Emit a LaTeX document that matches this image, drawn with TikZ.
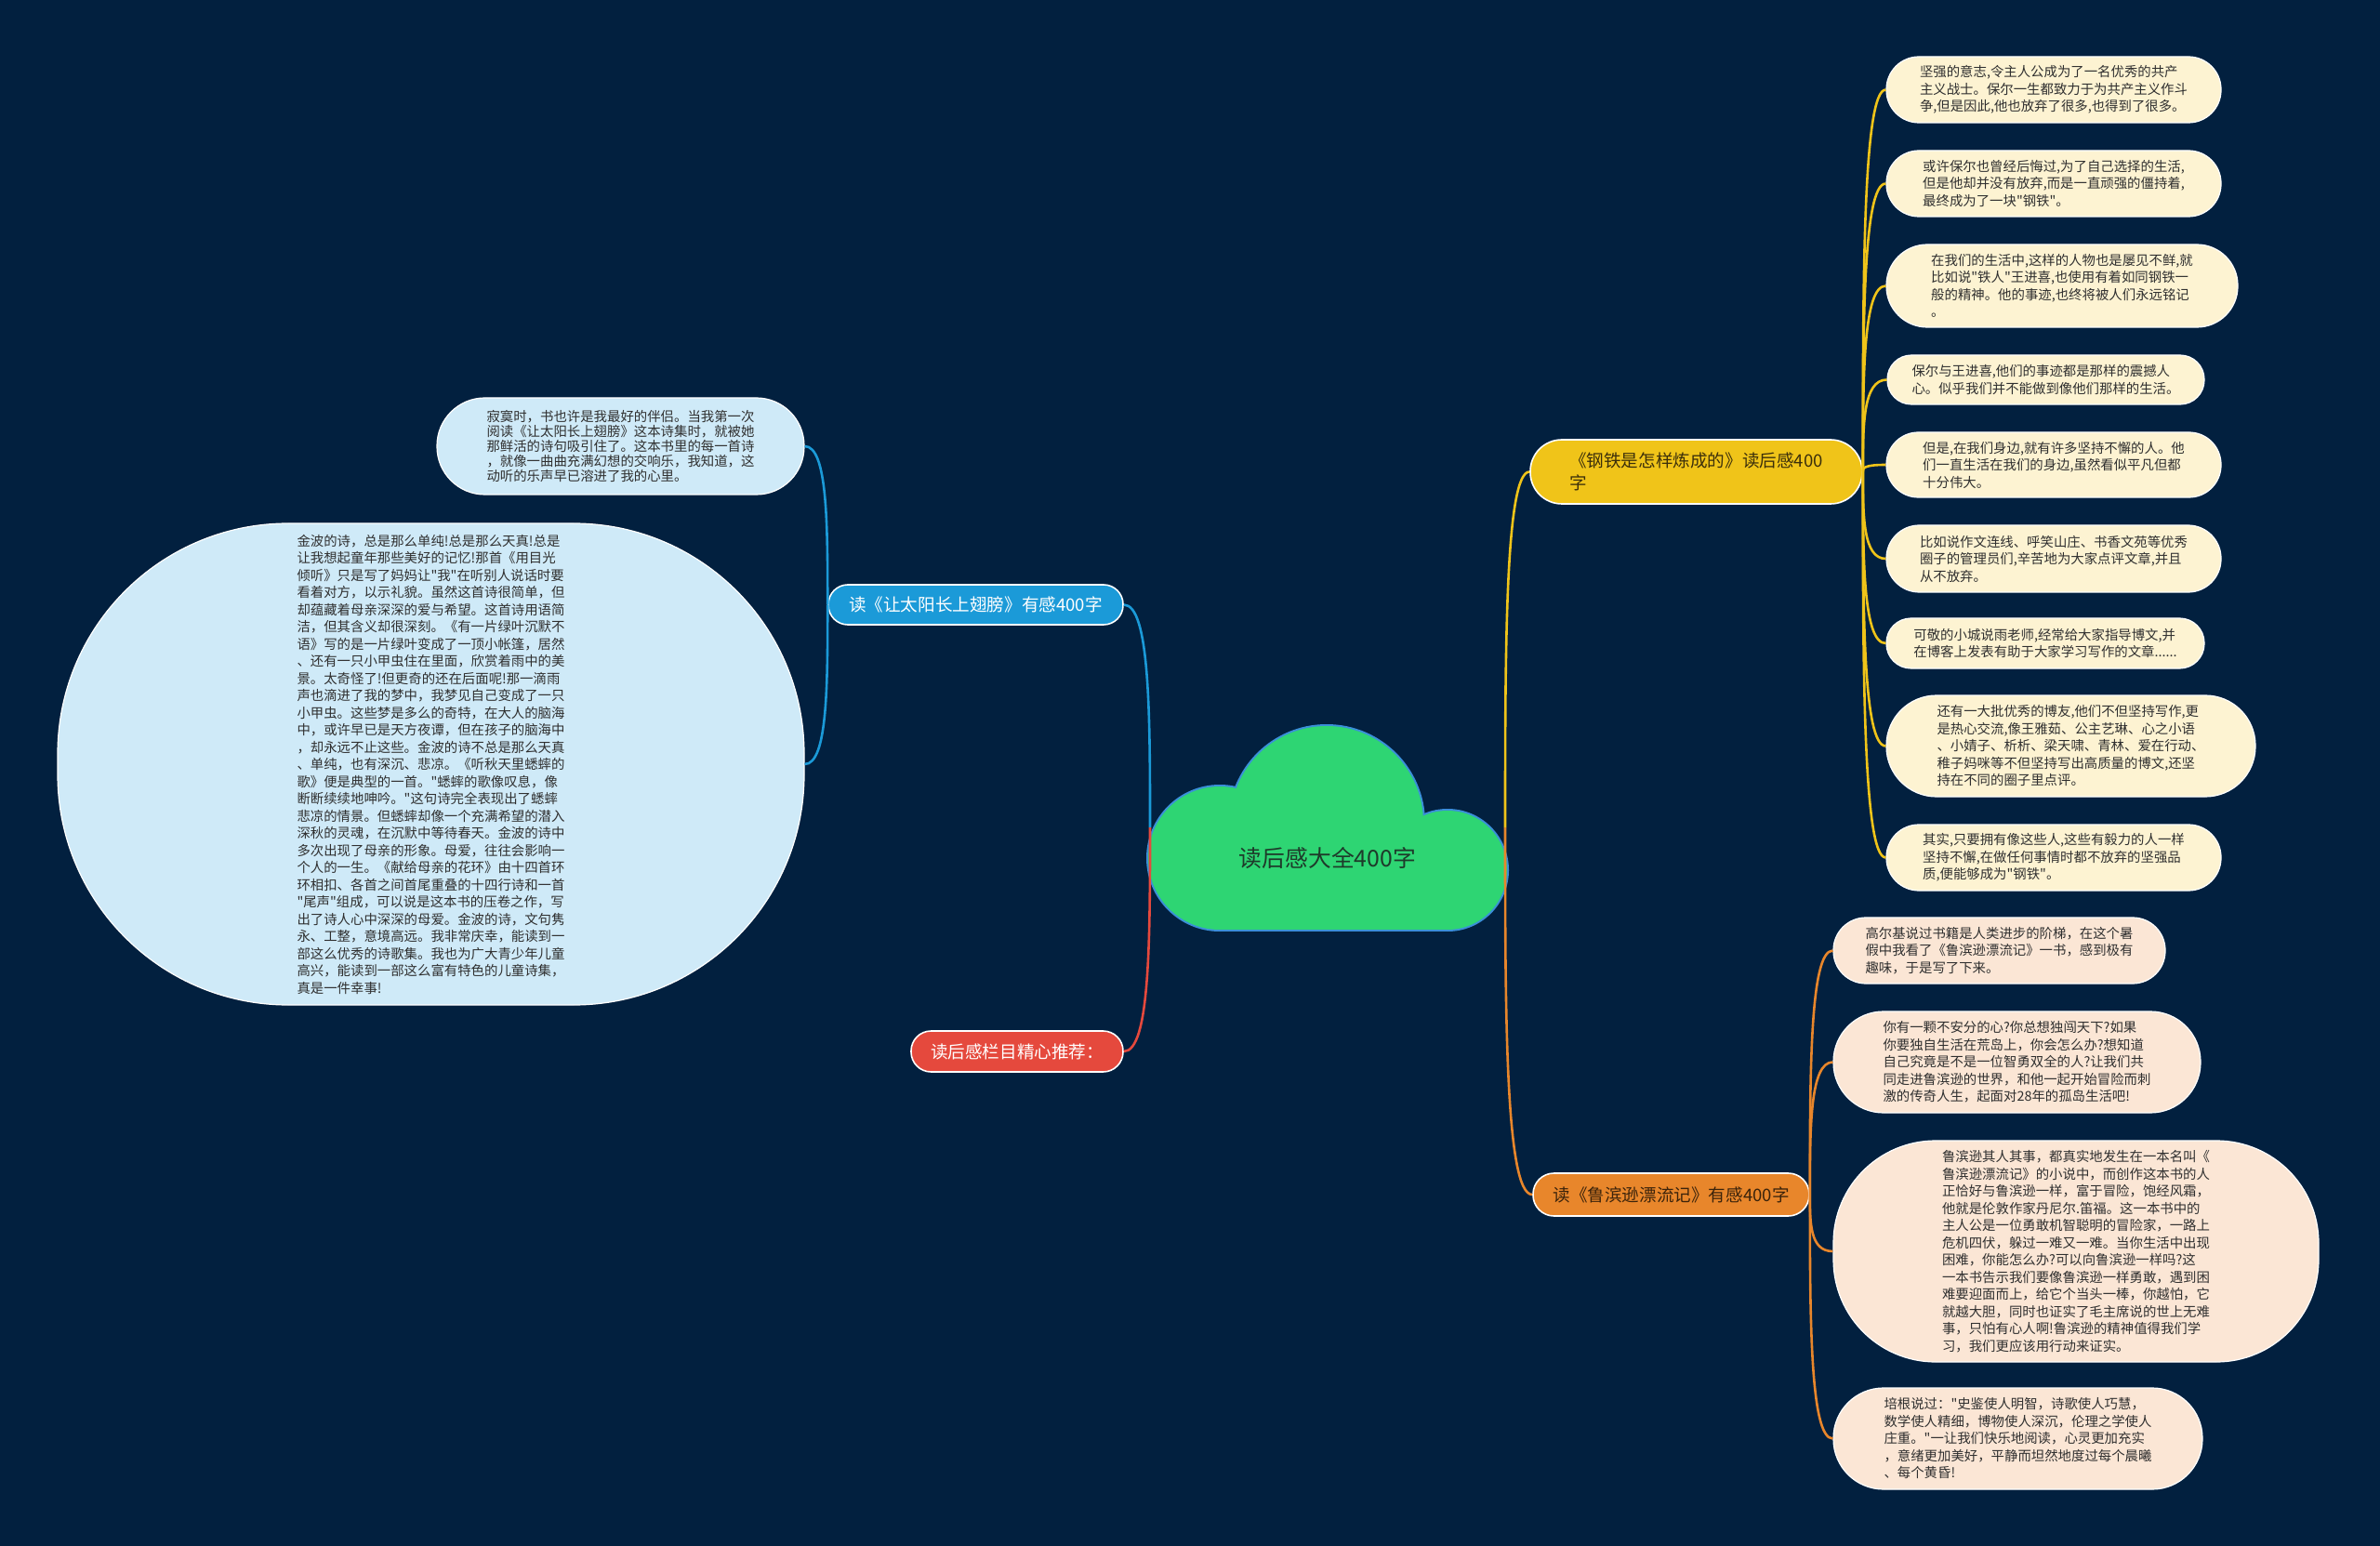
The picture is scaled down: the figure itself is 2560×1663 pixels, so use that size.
\documentclass[tikz,border=0pt]{standalone}
\usepackage{fontspec}
\setmainfont{Noto Sans CJK SC}[Ligatures=TeXOff]
\usetikzlibrary{calc}
\definecolor{bgc}{HTML}{02203F}
\definecolor{cloudfill}{HTML}{2ED573}
\definecolor{cloudline}{HTML}{3A8FD8}
\definecolor{cblue}{HTML}{1B9AD8}
\definecolor{cred}{HTML}{E5493D}
\definecolor{cyellow}{HTML}{F0C419}
\definecolor{corange}{HTML}{E8862B}
\definecolor{lyellow}{HTML}{FDF3D2}
\definecolor{lorange}{HTML}{FBE6D5}
\definecolor{lblue}{HTML}{CFEAF8}
\definecolor{ltext}{HTML}{2F2F2F}
\definecolor{roottext}{HTML}{1E3A2A}
\definecolor{ytext}{HTML}{3B2F0B}
\definecolor{otext}{HTML}{3B230B}

\newcommand\mmlink[3]{%
  \path ($(#2)!0.5!(#3)$) coordinate (mmtmp);
  \draw[#1] (#2) .. controls (#2 |- mmtmp) and (#2 |- #3) .. (#3);}
\newcommand\leaf[8]{\node[#1, minimum width=#5*0.5pt, minimum height=#6*0.5pt, rounded corners=#7*0.5pt] (#2) at (#3,#4) {#8};}

\begin{document}
\begin{tikzpicture}[x=0.5pt,y=-0.5pt,line join=round,
  leafbase/.style={rectangle, inner sep=0pt, align=left, draw=white, line width=0.6pt, text=ltext, font=\fontsize{7.2pt}{9.25pt}\selectfont},
  yleaf/.style={leafbase, fill=lyellow},
  oleaf/.style={leafbase, fill=lorange},
  bleaf/.style={leafbase, fill=lblue},
  branchbase/.style={rectangle, inner sep=0pt, draw=white, line width=0.8pt, font=\fontsize{9.3pt}{12pt}\selectfont, align=left},
  linkY/.style={cyellow, line width=1.3pt},
  linkO/.style={corange, line width=1.3pt},
  linkB/.style={cblue, line width=1.3pt},
  linkR/.style={cred, line width=1.3pt},
  cloudpart/.style={fill=cloudfill}
]
\fill[bgc] (0,0) rectangle (2560,1663);
\useasboundingbox (0,0) rectangle (2560,1663);

% cloud
\begin{scope}
\draw[cloudline, line width=2pt] (1427,885) circle[radius=104];
\draw[cloudline, line width=2pt] (1312,923) circle[radius=77];
\draw[cloudline, line width=2pt] (1557,936) circle[radius=64];
\draw[cloudline, line width=2pt] (1312,923) rectangle (1557,1000);
\fill[cloudfill] (1427,885) circle[radius=104];
\fill[cloudfill] (1312,923) circle[radius=77];
\fill[cloudfill] (1557,936) circle[radius=64];
\fill[cloudfill] (1312,923) rectangle (1557,1000);
\end{scope}
\node[text=roottext, font=\fontsize{12.4pt}{15pt}\selectfont] (root) at (1428,923) {读后感大全400字};
\coordinate (cL) at (1237,890);
\coordinate (cR) at (1619,890);

% branches
\node[branchbase, fill=cyellow, text=ytext, minimum width=357*0.5pt, minimum height=69*0.5pt, rounded corners=34*0.5pt] (BY) at (1824.5,507.5) {《钢铁是怎样炼成的》读后感400\\字};
\node[branchbase, fill=corange, text=otext, minimum width=297*0.5pt, minimum height=46*0.5pt, rounded corners=22.5*0.5pt] (BO) at (1797.5,1285) {读《鲁滨逊漂流记》有感400字};
\node[branchbase, fill=cblue, text=white, minimum width=317*0.5pt, minimum height=43*0.5pt, rounded corners=21*0.5pt] (BB) at (1049.5,650.5) {读《让太阳长上翅膀》有感400字};
\node[branchbase, fill=cred, text=white, minimum width=228*0.5pt, minimum height=44*0.5pt, rounded corners=21.5*0.5pt] (BR) at (1094,1131) {读后感栏目精心推荐：};

% yellow leaves
\leaf{yleaf}{Y1}{2209}{96.5}{360}{71}{35}{坚强的意志,令主人公成为了一名优秀的共产\\主义战士。保尔一生都致力于为共产主义作斗\\争,但是因此,他也放弃了很多,也得到了很多。}
\leaf{yleaf}{Y2}{2209}{197.5}{360}{71}{35}{或许保尔也曾经后悔过,为了自己选择的生活,\\但是他却并没有放弃,而是一直顽强的僵持着,\\最终成为了一块"钢铁"。}
\leaf{yleaf}{Y3}{2218}{307.5}{378}{89}{44}{在我们的生活中,这样的人物也是屡见不鲜,就\\比如说"铁人"王进喜,也使用有着如同钢铁一\\般的精神。他的事迹,也终将被人们永远铭记\\。}
\leaf{yleaf}{Y4}{2200.5}{408.5}{341}{53}{26}{保尔与王进喜,他们的事迹都是那样的震撼人\\心。似乎我们并不能做到像他们那样的生活。}
\leaf{yleaf}{Y5}{2209}{500}{360}{70}{34.5}{但是,在我们身边,就有许多坚持不懈的人。他\\们一直生活在我们的身边,虽然看似平凡但都\\十分伟大。}
\leaf{yleaf}{Y6}{2209}{601}{360}{72}{35.5}{比如说作文连线、呼笑山庄、书香文苑等优秀\\圈子的管理员们,辛苦地为大家点评文章,并且\\从不放弃。}
\leaf{yleaf}{Y7}{2200}{692}{342}{54}{26.5}{可敬的小城说雨老师,经常给大家指导博文,并\\在博客上发表有助于大家学习写作的文章......}
\leaf{yleaf}{Y8}{2227.5}{802.5}{397}{109}{54}{还有一大批优秀的博友,他们不但坚持写作,更\\是热心交流,像王雅茹、公主艺琳、心之小语\\、小婧子、析析、梁天啸、青林、爱在行动、\\稚子妈咪等不但坚持写出高质量的博文,还坚\\持在不同的圈子里点评。}
\leaf{yleaf}{Y9}{2209}{922.5}{360}{71}{35}{其实,只要拥有像这些人,这些有毅力的人一样\\坚持不懈,在做任何事情时都不放弃的坚强品\\质,便能够成为"钢铁"。}

% orange leaves
\leaf{oleaf}{O1}{2150.5}{1022.5}{357}{71}{35}{高尔基说过书籍是人类进步的阶梯，在这个暑\\假中我看了《鲁滨逊漂流记》一书，感到极有\\趣味，于是写了下来。}
\leaf{oleaf}{O2}{2169.5}{1142.5}{395}{109}{54}{你有一颗不安分的心?你总想独闯天下?如果\\你要独自生活在荒岛上，你会怎么办?想知道\\自己究竟是不是一位智勇双全的人?让我们共\\同走进鲁滨逊的世界，和他一起开始冒险而刺\\激的传奇人生，起面对28年的孤岛生活吧!}
\leaf{oleaf}{O3}{2233}{1346}{522}{238}{110}{鲁滨逊其人其事，都真实地发生在一本名叫《\\鲁滨逊漂流记》的小说中，而创作这本书的人\\正恰好与鲁滨逊一样，富于冒险，饱经风霜，\\他就是伦敦作家丹尼尔.笛福。这一本书中的\\主人公是一位勇敢机智聪明的冒险家，一路上\\危机四伏，躲过一难又一难。当你生活中出现\\困难，你能怎么办?可以向鲁滨逊一样吗?这\\一本书告示我们要像鲁滨逊一样勇敢，遇到困\\难要迎面而上，给它个当头一棒，你越怕，它\\就越大胆，同时也证实了毛主席说的世上无难\\事，只怕有心人啊!鲁滨逊的精神值得我们学\\习，我们更应该用行动来证实。}
\leaf{oleaf}{O4}{2170.5}{1547.5}{397}{109}{54}{培根说过："史鉴使人明智，诗歌使人巧慧，\\数学使人精细，博物使人深沉，伦理之学使人\\庄重。"一让我们快乐地阅读，心灵更加充实\\，意绪更加美好，平静而坦然地度过每个晨曦\\、每个黄昏!}

% blue leaves
\leaf{bleaf, font=\fontsize{7.2pt}{8pt}\selectfont}{B1}{667.5}{480}{395}{104}{51.5}{寂寞时，书也许是我最好的伴侣。当我第一次\\阅读《让太阳长上翅膀》这本诗集时，就被她\\那鲜活的诗句吸引住了。这本书里的每一首诗\\，就像一曲曲充满幻想的交响乐，我知道，这\\动听的乐声早已溶进了我的心里。}
\leaf{bleaf}{B2}{463.5}{822}{803}{518}{248}{金波的诗，总是那么单纯!总是那么天真!总是\\让我想起童年那些美好的记忆!那首《用目光\\倾听》只是写了妈妈让"我"在听别人说话时要\\看着对方，以示礼貌。虽然这首诗很简单，但\\却蕴藏着母亲深深的爱与希望。这首诗用语简\\洁，但其含义却很深刻。《有一片绿叶沉默不\\语》写的是一片绿叶变成了一顶小帐篷，居然\\、还有一只小甲虫住在里面，欣赏着雨中的美\\景。太奇怪了!但更奇的还在后面呢!那一滴雨\\声也滴进了我的梦中，我梦见自己变成了一只\\小甲虫。这些梦是多么的奇特，在大人的脑海\\中，或许早已是天方夜谭，但在孩子的脑海中\\，却永远不止这些。金波的诗不总是那么天真\\、单纯，也有深沉、悲凉。《听秋天里蟋蟀的\\歌》便是典型的一首。"蟋蟀的歌像叹息，像\\断断续续地呻吟。"这句诗完全表现出了蟋蟀\\悲凉的情景。但蟋蟀却像一个充满希望的潜入\\深秋的灵魂，在沉默中等待春天。金波的诗中\\多次出现了母亲的形象。母爱，往往会影响一\\个人的一生。《献给母亲的花环》由十四首环\\环相扣、各首之间首尾重叠的十四行诗和一首\\"尾声"组成，可以说是这本书的压卷之作，写\\出了诗人心中深深的母爱。金波的诗，文句隽\\永、工整，意境高远。我非常庆幸，能读到一\\部这么优秀的诗歌集。我也为广大青少年儿童\\高兴，能读到一部这么富有特色的儿童诗集，\\真是一件幸事!}

% connectors
\mmlink{linkB}{cL}{BB.east}
\mmlink{linkR}{cL}{BR.east}
\mmlink{linkY}{cR}{BY.west}
\mmlink{linkO}{cR}{BO.west}
\mmlink{linkB}{BB.west}{B1.east}
\mmlink{linkB}{BB.west}{B2.east}
\foreach \n in {Y1,Y2,Y3,Y4,Y5,Y6,Y7,Y8,Y9}{\mmlink{linkY}{BY.east}{\n.west}}
\foreach \n in {O1,O2,O3,O4}{\mmlink{linkO}{BO.east}{\n.west}}
\end{tikzpicture}
\end{document}
